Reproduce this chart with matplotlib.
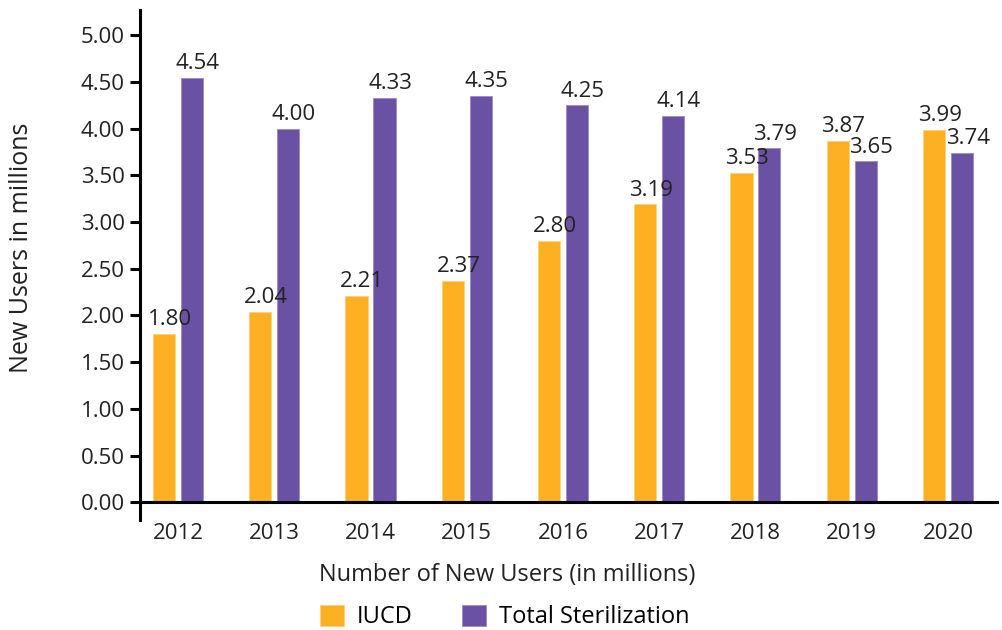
import matplotlib.pyplot as plt
import numpy as np

plt.rcParams['font.family'] = ['Open Sans', 'DejaVu Sans']

years = ["2012", "2013", "2014", "2015", "2016", "2017", "2018", "2019", "2020"]
iucd = [1.80, 2.04, 2.21, 2.37, 2.80, 3.19, 3.53, 3.87, 3.99]
sterilization = [4.54, 4.00, 4.33, 4.35, 4.25, 4.14, 3.79, 3.65, 3.74]

orange = "#FDB022"
purple = "#6A51A3"
fs = 16

fig = plt.figure(figsize=(10.03, 6.30), dpi=100)
ax = fig.add_axes([140/1003, 110/630, 857/1003, 510/630])

x = np.arange(len(years))
w = 0.23
off = 0.145
b1 = ax.bar(x - off, iucd, w, color=orange, edgecolor="#FFD27A", linewidth=0.6, label="IUCD")
b2 = ax.bar(x + off, sterilization, w, color=purple, edgecolor="#9C8AC6", linewidth=0.6, label="Total Sterilization")

for bars, vals in ((b1, iucd), (b2, sterilization)):
    for r, v in zip(bars, vals):
        ax.text(r.get_x() + r.get_width()/2 + 0.06, v + 0.04, "%.2f" % v,
                ha="center", va="bottom", fontsize=fs, color="#222222")

ax.set_xlim(-0.395, 8.51)
ax.set_ylim(-0.19, 5.27)
ax.set_yticks(np.arange(0, 5.01, 0.5))
ax.set_yticklabels(["%.2f" % t for t in np.arange(0, 5.01, 0.5)])
ax.set_xticks(x)
ax.set_xticklabels(years)

for s in ("top", "right"):
    ax.spines[s].set_visible(False)
ax.spines["bottom"].set_position(("data", 0))
ax.spines["bottom"].set_linewidth(2.2)
ax.spines["left"].set_linewidth(2.2)
ax.tick_params(axis="y", length=7, width=2.2, pad=4, labelsize=fs, labelcolor="#222222")
ax.tick_params(axis="x", length=0, pad=15, labelsize=fs, labelcolor="#222222")

ax.set_ylabel("New Users in millions", fontsize=18, color="#222222")
ax.yaxis.set_label_coords(-0.124, 0.534)
ax.set_xlabel("Number of New Users (in millions)", fontsize=17, color="#222222")
ax.xaxis.set_label_coords(0.428, -0.085)

fig.legend(handles=[b1, b2], loc="center", bbox_to_anchor=(0.503, 13/630), ncol=2,
           frameon=False, fontsize=17, handlelength=1.0, handleheight=1.0,
           columnspacing=2.1, handletextpad=0.55)

fig.savefig("out.png", dpi=100)
